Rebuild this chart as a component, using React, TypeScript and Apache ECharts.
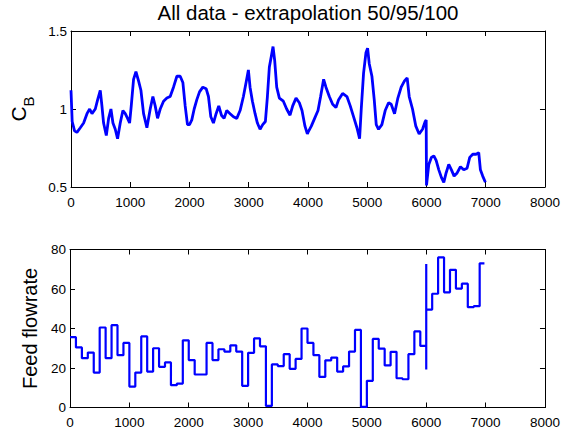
import React, { useEffect, useRef } from "react";
import * as echarts from "echarts";

const titleText = "All data - extrapolation 50/95/100";
const topYLabel = "{c|C}{b|B}";
const bottomYLabel = "Feed flowrate";

// Top panel: C_B over time
const cbX = [0, 20, 60, 100, 157, 213, 270, 315, 354, 410, 450, 494, 522, 550, 596, 635, 674, 708, 747, 786, 831, 876, 916, 955, 989, 1017, 1056, 1096, 1140, 1180, 1225, 1281, 1337, 1382, 1421, 1461, 1506, 1562, 1618, 1674, 1730, 1787, 1843, 1888, 1927, 1966, 2000, 2039, 2079, 2124, 2169, 2225, 2281, 2320, 2360, 2404, 2449, 2494, 2539, 2584, 2629, 2685, 2742, 2798, 2854, 2910, 2955, 2994, 3022, 3062, 3107, 3146, 3191, 3236, 3281, 3315, 3348, 3382, 3410, 3438, 3472, 3517, 3584, 3640, 3697, 3742, 3798, 3854, 3899, 3949, 3989, 4000, 4056, 4112, 4169, 4213, 4264, 4303, 4360, 4416, 4472, 4517, 4584, 4657, 4713, 4770, 4826, 4871, 4899, 4938, 4978, 5006, 5034, 5079, 5118, 5152, 5191, 5247, 5303, 5360, 5404, 5461, 5517, 5573, 5629, 5674, 5708, 5764, 5820, 5876, 5933, 5978, 5995, 6000, 6039, 6084, 6124, 6163, 6208, 6253, 6292, 6331, 6376, 6421, 6466, 6517, 6573, 6629, 6685, 6730, 6781, 6837, 6882, 6910, 6949, 6994];
const cbY = [1.12, 0.92, 0.86, 0.85, 0.88, 0.91, 0.97, 1.0, 0.97, 1.0, 1.06, 1.12, 1.02, 0.91, 0.83, 0.94, 1.0, 0.91, 0.87, 0.81, 0.91, 0.99, 0.97, 0.94, 0.91, 1.02, 1.19, 1.24, 1.18, 1.12, 0.97, 0.88, 1.0, 1.08, 1.02, 0.94, 1.0, 1.05, 1.07, 1.08, 1.14, 1.21, 1.21, 1.17, 1.02, 0.9, 0.9, 0.93, 1.0, 1.06, 1.11, 1.14, 1.13, 1.08, 0.95, 0.91, 0.97, 1.02, 0.96, 0.94, 0.99, 0.97, 0.95, 0.94, 0.99, 1.08, 1.17, 1.25, 1.14, 1.05, 0.97, 0.91, 0.87, 0.9, 0.92, 1.08, 1.27, 1.34, 1.4, 1.31, 1.14, 1.07, 1.05, 1.0, 0.96, 1.02, 1.07, 1.04, 0.99, 0.89, 0.84, 0.85, 0.89, 0.94, 0.99, 1.08, 1.19, 1.14, 1.08, 1.03, 1.01, 1.06, 1.1, 1.08, 1.02, 0.95, 0.88, 0.81, 1.0, 1.23, 1.36, 1.39, 1.29, 1.21, 1.06, 0.9, 0.87, 0.9, 0.99, 1.04, 1.03, 0.97, 1.07, 1.14, 1.18, 1.2, 1.08, 1.0, 0.89, 0.84, 0.87, 0.92, 0.93, 0.51, 0.645, 0.69, 0.7, 0.67, 0.61, 0.56, 0.53, 0.59, 0.645, 0.61, 0.57, 0.59, 0.63, 0.61, 0.62, 0.69, 0.71, 0.71, 0.72, 0.61, 0.57, 0.53];

// Bottom panel: feed flowrate, value held from each x until the next
const feedX = [0, 100, 200, 300, 400, 500, 600, 700, 800, 900, 1000, 1100, 1200, 1300, 1400, 1500, 1600, 1700, 1800, 1900, 2000, 2100, 2200, 2300, 2400, 2500, 2600, 2700, 2800, 2900, 3000, 3100, 3200, 3300, 3400, 3500, 3600, 3700, 3800, 3900, 4000, 4100, 4200, 4300, 4400, 4500, 4600, 4700, 4800, 4900, 5000, 5100, 5200, 5300, 5400, 5500, 5600, 5700, 5800, 5900, 6000, 6000, 6000, 6100, 6200, 6300, 6400, 6500, 6600, 6700, 6800, 6900, 6980];
const feedY = [35.6, 30.4, 25, 27.8, 17.7, 40.5, 25, 41.7, 26.5, 32.7, 10.6, 17.7, 36, 18.2, 30, 20.6, 22.8, 11.3, 12.1, 34, 24, 16.7, 16.7, 32.7, 24, 29.5, 28.3, 31.5, 28.3, 11, 27.7, 35, 31, 0.8, 21.8, 21, 27, 19.6, 24.6, 40, 32.7, 26.5, 15.5, 23.9, 25.3, 18.2, 20.8, 28.3, 39.3, 0.3, 13.5, 34.7, 29.8, 21.3, 28.2, 14.8, 14.3, 27, 38.5, 31.2, 19.2, 72.6, 49.6, 57.6, 76, 58.3, 69.7, 60.2, 62.7, 50.8, 51.3, 73, 73];

const fontFamily = "'Liberation Sans', Arial, Helvetica, sans-serif";
const plain = (v: number) => String(v);

function xAxisFor(gridIndex: number, position: string, showLabels: boolean) {
  return {
    type: "value",
    gridIndex,
    position,
    min: 0,
    max: 8000,
    interval: 1000,
    axisLine: { show: true, onZero: false, lineStyle: { color: "#000", width: 1 } },
    axisTick: { show: true, inside: true, length: 5, lineStyle: { color: "#000", width: 1 } },
    axisLabel: { show: showLabels, color: "#000", fontSize: 13.5, fontFamily, margin: 8, formatter: plain },
    splitLine: { show: false },
  };
}

function yAxisFor(gridIndex: number, position: string, showLabels: boolean, min: number, max: number, interval: number, extra: any = {}) {
  return {
    type: "value",
    gridIndex,
    position,
    min,
    max,
    interval,
    axisLine: { show: true, onZero: false, lineStyle: { color: "#000", width: 1 } },
    axisTick: { show: true, inside: true, length: 5, lineStyle: { color: "#000", width: 1 } },
    axisLabel: { show: showLabels, color: "#000", fontSize: 13.5, fontFamily, margin: 4, formatter: plain },
    splitLine: { show: false },
    ...extra,
  };
}

export default function App() {
  const ref = useRef<HTMLDivElement>(null);
  useEffect(() => {
    if (!ref.current) return;
    const chart = echarts.init(ref.current, undefined, { renderer: "svg" });
    chart.setOption({
      animation: false,
      backgroundColor: "#fff",
      graphic: [
        {
          type: "text",
          x: 308,
          y: 12,
          style: {
            text: titleText,
            fontSize: 20.5,
            fontFamily,
            fill: "#000",
            align: "center",
            verticalAlign: "middle",
            textAlign: "center",
            textVerticalAlign: "middle",
          },
        },
      ],
      grid: [
        { left: 70, right: 16, top: 31, height: 156 },
        { left: 70, right: 16, top: 249.5, height: 158 },
      ],
      xAxis: [
        xAxisFor(0, "bottom", true),
        xAxisFor(0, "top", false),
        xAxisFor(1, "bottom", true),
        xAxisFor(1, "top", false),
      ],
      yAxis: [
        yAxisFor(0, "left", true, 0.5, 1.5, 0.5, {
          name: topYLabel,
          nameLocation: "middle",
          nameGap: 35,
          nameTextStyle: {
            color: "#000",
            fontFamily,
            rich: {
              c: { fontSize: 21, fontFamily, color: "#000" },
              b: { fontSize: 15, fontFamily, color: "#000", padding: [20, 0, 0, 0] },
            },
          },
        }),
        yAxisFor(0, "right", false, 0.5, 1.5, 0.5),
        yAxisFor(1, "left", true, 0, 80, 20, {
          name: bottomYLabel,
          nameLocation: "middle",
          nameGap: 29,
          nameTextStyle: { color: "#000", fontFamily, fontSize: 20 },
        }),
        yAxisFor(1, "right", false, 0, 80, 20),
      ],
      series: [
        {
          type: "line",
          xAxisIndex: 0,
          yAxisIndex: 0,
          data: cbX.map((x, i) => [x, cbY[i]]),
          showSymbol: false,
          symbol: "none",
          lineStyle: { color: "#0000ff", width: 2.8 },
        },
        {
          type: "line",
          xAxisIndex: 2,
          yAxisIndex: 2,
          step: "end",
          data: feedX.map((x, i) => [x, feedY[i]]),
          showSymbol: false,
          symbol: "none",
          lineStyle: { color: "#0000ff", width: 2.2 },
        },
      ],
    });
    return () => chart.dispose();
  }, []);
  return (
    <div
      ref={ref}
      style={{ position: "fixed", left: 0, top: 0, width: 563, height: 431, background: "#fff" }}
    />
  );
}
